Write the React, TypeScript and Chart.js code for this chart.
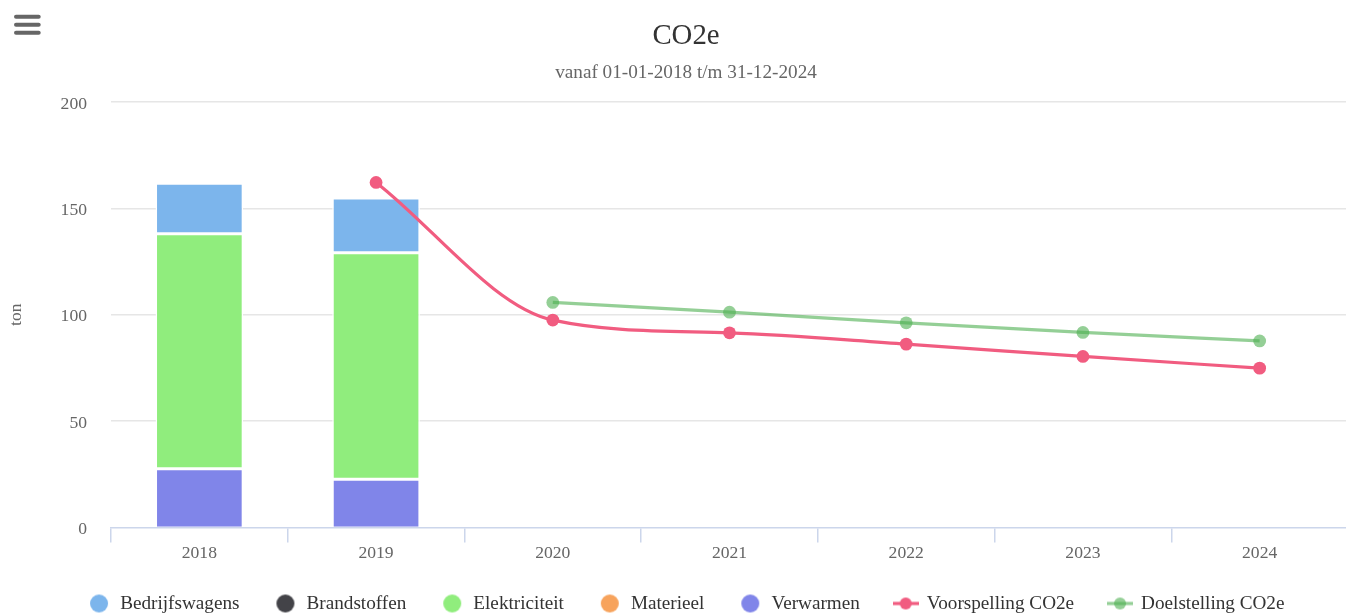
import React, { useEffect, useRef } from 'react';
import { Chart, registerables } from 'chart.js';

Chart.register(...registerables);

const categories = ['2018', '2019', '2020', '2021', '2022', '2023', '2024'];
const bedrijfswagens = [23.7, 25.8, null, null, null, null, null];
const brandstoffen = [0, 0, null, null, null, null, null];
const elektriciteit = [110.5, 106.4, null, null, null, null, null];
const materieel = [0, 0, null, null, null, null, null];
const verwarmen = [27.6, 22.7, null, null, null, null, null];
const voorspelling = [null, 162.2, 97.5, 91.5, 86.2, 80.4, 74.9];
const doelstelling = [null, null, 105.8, 101.2, 96.2, 91.7, 87.7];
const yTicks = [0, 50, 100, 150, 200];

const FONT = "'Liberation Serif', 'Times New Roman', Times, serif";
const PINK = '#f15c80';
const GREEN = 'rgba(76,175,80,0.6)';

function circleSymbol(color: string) {
  const c = document.createElement('canvas');
  c.width = 20;
  c.height = 20;
  const ctx = c.getContext('2d')!;
  ctx.fillStyle = color;
  ctx.beginPath();
  ctx.arc(10, 10, 9, 0, Math.PI * 2);
  ctx.fill();
  return c;
}

function lineSymbol(color: string) {
  const c = document.createElement('canvas');
  c.width = 26;
  c.height = 14;
  const ctx = c.getContext('2d')!;
  ctx.strokeStyle = color;
  ctx.lineWidth = 3.2;
  ctx.beginPath();
  ctx.moveTo(0, 7);
  ctx.lineTo(26, 7);
  ctx.stroke();
  ctx.fillStyle = color;
  ctx.beginPath();
  ctx.arc(13, 7, 6, 0, Math.PI * 2);
  ctx.fill();
  return c;
}

export default function App() {
  const ref = useRef<HTMLCanvasElement | null>(null);

  useEffect(() => {
    if (!ref.current) return;
    const symbols = [
      circleSymbol('#7cb5ec'),
      circleSymbol('#434348'),
      circleSymbol('#90ed7d'),
      circleSymbol('#f7a35c'),
      circleSymbol('#8085e9'),
      lineSymbol(PINK),
      lineSymbol(GREEN),
    ];
    const barCommon = {
      type: 'bar' as const,
      stack: 'totaal',
      borderColor: '#ffffff',
      borderWidth: 1.5,
      borderSkipped: false,
      barPercentage: 0.496,
      categoryPercentage: 1.0,
    };
    const lineCommon = {
      type: 'line' as const,
      borderWidth: 3.2,
      pointRadius: 6.4,
      pointHoverRadius: 6.4,
      pointBorderWidth: 0,
      cubicInterpolationMode: 'monotone' as const,
      fill: false,
      order: 0,
    };
    const chart = new Chart(ref.current, {
      type: 'bar',
      data: {
        labels: categories,
        datasets: [
          { ...barCommon, label: 'Bedrijfswagens', data: bedrijfswagens, backgroundColor: '#7cb5ec', order: 5 },
          { ...barCommon, label: 'Brandstoffen', data: brandstoffen, backgroundColor: '#434348', order: 4 },
          { ...barCommon, label: 'Elektriciteit', data: elektriciteit, backgroundColor: '#90ed7d', order: 3 },
          { ...barCommon, label: 'Materieel', data: materieel, backgroundColor: '#f7a35c', order: 2 },
          {
            ...barCommon,
            label: 'Verwarmen',
            data: verwarmen,
            backgroundColor: '#8085e9',
            order: 1,
            borderSkipped: 'start',
          },
          {
            ...lineCommon,
            label: 'Voorspelling CO2e',
            data: voorspelling,
            stack: 'voorspelling',
            borderColor: PINK,
            backgroundColor: PINK,
            pointBackgroundColor: PINK,
          },
          {
            ...lineCommon,
            label: 'Doelstelling CO2e',
            data: doelstelling,
            stack: 'doelstelling',
            borderColor: GREEN,
            backgroundColor: GREEN,
            pointBackgroundColor: GREEN,
          },
        ] as any,
      },
      options: {
        responsive: false,
        animation: false,
        devicePixelRatio: 1,
        events: [],
        layout: { padding: { left: 24, right: 24, top: 0, bottom: 0 } },
        plugins: {
          tooltip: { enabled: false },
          title: {
            display: true,
            text: 'CO2e',
            color: '#333333',
            font: { family: FONT, size: 28.8, weight: 'normal' },
            padding: { top: 18.7, bottom: 0 },
          },
          subtitle: {
            display: true,
            text: 'vanaf 01-01-2018 t/m 31-12-2024',
            color: '#666666',
            font: { family: FONT, size: 19.2, weight: 'normal' },
            padding: { top: 7.7, bottom: 18 },
          },
          legend: {
            display: true,
            position: 'bottom',
            align: 'center',
            maxHeight: 55.5,
            labels: {
              usePointStyle: true,
              pointStyleWidth: 23,
              boxHeight: 19,
              padding: 34.4,
              color: '#333333',
              font: { family: FONT, size: 19.2, weight: 'normal' },
              generateLabels: (ch: any) => {
                const items = (Chart.defaults.plugins.legend.labels as any).generateLabels(ch);
                items.sort((a: any, b: any) => a.datasetIndex - b.datasetIndex);
                return items.map((it: any) => ({
                  ...it,
                  pointStyle: symbols[it.datasetIndex],
                  fontColor: '#333333',
                  lineWidth: 0,
                }));
              },
            },
          },
        },
        scales: {
          x: {
            type: 'category',
            stacked: true,
            offset: true,
            afterFit: (scale: any) => {
              scale.height = 32;
            },
            grid: {
              offset: true,
              drawOnChartArea: false,
              drawTicks: true,
              tickLength: 15,
              color: '#ccd6eb',
              lineWidth: 1.5,
            },
            border: { display: true, color: '#ccd6eb', width: 1.5 },
            ticks: {
              color: '#666666',
              font: { family: FONT, size: 17.6 },
              padding: 0,
              maxRotation: 0,
            },
          },
          y: {
            stacked: true,
            min: yTicks[0],
            max: yTicks[yTicks.length - 1],
            afterFit: (scale: any) => {
              scale.width = 87;
            },
            afterBuildTicks: (scale: any) => {
              scale.ticks = yTicks.map((v) => ({ value: v }));
            },
            grid: {
              color: (ctx: any) => (ctx.tick && ctx.tick.value === 0 ? 'rgba(0,0,0,0)' : '#e6e6e6'),
              lineWidth: 1.5,
              drawTicks: false,
            },
            border: { display: false },
            ticks: {
              color: '#666666',
              font: { family: FONT, size: 17.6 },
              padding: 24,
              labelOffset: 2,
            },
            title: {
              display: true,
              text: 'ton',
              color: '#666666',
              font: { family: FONT, size: 17.6 },
              padding: { top: -18.6, bottom: 0 },
            },
          },
        },
      } as any,
    });
    return () => chart.destroy();
  }, []);

  return (
    <div style={{ position: 'fixed', left: 0, top: 0, width: '100vw', height: '100vh', overflow: 'hidden', background: '#fff' }}>
      <canvas ref={ref} width={1372} height={615} style={{ position: 'absolute', left: 0, top: 0, width: 1372, height: 615 }} />
      <svg
        width={30}
        height={24}
        viewBox="0 0 30 24"
        style={{ position: 'absolute', left: 12, top: 13 }}
      >
        <rect x={2} y={1.7} width={26.7} height={4} rx={2} fill="#666666" />
        <rect x={2} y={9.7} width={26.7} height={4} rx={2} fill="#666666" />
        <rect x={2} y={17.7} width={26.7} height={4} rx={2} fill="#666666" />
      </svg>
    </div>
  );
}
